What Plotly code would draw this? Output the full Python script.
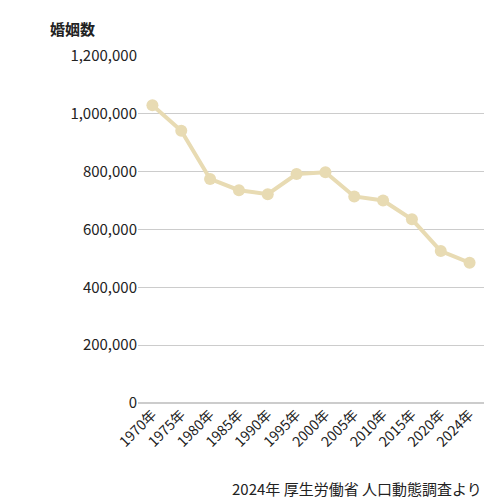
import plotly.graph_objects as go

years = ["1970年", "1975年", "1980年", "1985年", "1990年", "1995年",
         "2000年", "2005年", "2010年", "2015年", "2020年", "2024年"]
marriages = [1029405, 941628, 774702, 735850, 722138, 791888,
             798138, 714265, 700222, 635225, 525507, 485063]
tick_vals = [0, 200000, 400000, 600000, 800000, 1000000, 1200000]
tick_text = ["0", "200,000", "400,000", "600,000", "800,000", "1,000,000", "1,200,000"]

fig = go.Figure(go.Scatter(
    x=years, y=marriages, mode="lines+markers",
    line=dict(color="#e8dbb3", width=4),
    marker=dict(color="#e8dbb3", size=12),
))

fig.update_layout(
    width=500, height=500,
    margin=dict(l=130, r=24, t=48, b=105),
    plot_bgcolor="white", paper_bgcolor="white",
    font=dict(family="Noto Sans CJK JP", size=14, color="#222"),
    showlegend=False,
    annotations=[
        dict(text="<b>婚姻数</b>", xref="paper", yref="paper", x=-0.26, y=1.08,
             xanchor="left", yanchor="middle", showarrow=False, font=dict(size=15)),
        dict(text="2024年 厚生労働省 人口動態調査より", xref="paper", yref="paper",
             x=1.0, y=-0.245, xanchor="right", yanchor="middle", showarrow=False,
             font=dict(size=15)),
    ],
)
fig.update_xaxes(type="category", tickangle=-45, showgrid=False, automargin=False,
                 showline=False, ticks="", range=[-0.5, 11.5])
fig.update_yaxes(range=[0, 1200000], tickvals=tick_vals, ticktext=tick_text,
                 automargin=False, tickfont=dict(size=15),
                 gridcolor="#cccccc", zeroline=True, zerolinecolor="#cccccc",
                 ticks="", ticklen=0)

fig.write_html("out.html")
